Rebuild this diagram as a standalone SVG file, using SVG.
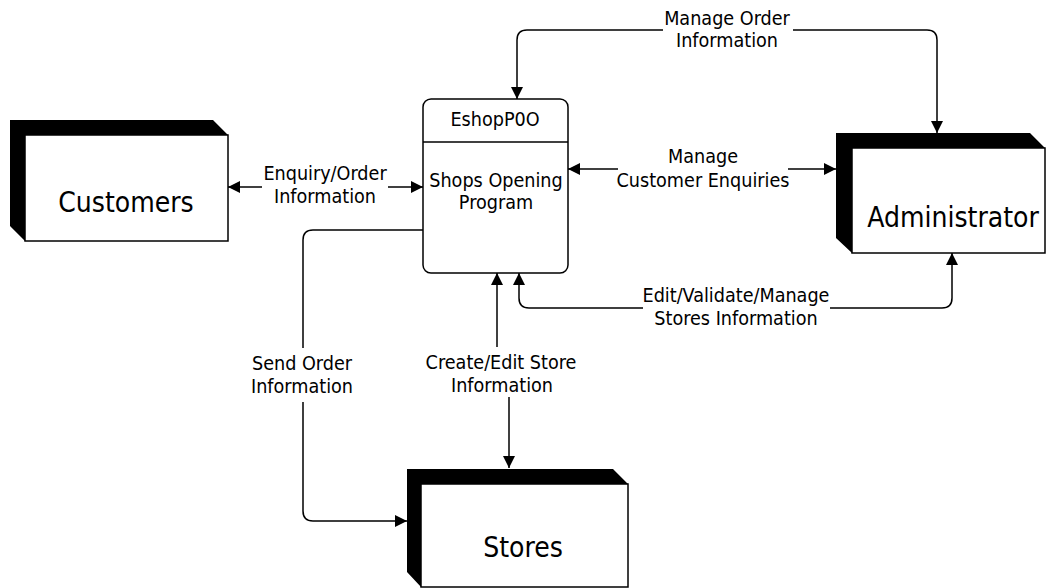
<svg xmlns="http://www.w3.org/2000/svg" width="1048" height="588" viewBox="0 0 1048 588">
<style>
text { font-family: "DejaVu Sans Condensed", "DejaVu Sans", sans-serif; fill: #000; text-anchor: middle; }
.lbl { font-size: 19.6px; }
.ent { font-size: 28px; }
.shade { fill: #000; }
.front { fill: #fff; stroke: #000; stroke-width: 1.5; }
.proc { fill: #fff; stroke: #000; stroke-width: 1.5; }
.con { fill: none; stroke: #000; stroke-width: 1.5; marker-end: url(#ah); }
.plain { fill: none; stroke: #000; stroke-width: 1.5; }
</style>
<defs>
<marker id="ah" markerUnits="userSpaceOnUse" markerWidth="12" markerHeight="12" viewBox="0 0 12 12" refX="12" refY="6" orient="auto">
<path d="M0,0 L12,6 L0,12 z" fill="#000"/>
</marker>
</defs>
<rect width="1048" height="588" fill="#fff"/>

<g id="customers">
<polygon class="shade" points="10,120 213,120 228,135 25,135 25,241 10,226"/>
<rect class="front" x="25" y="135" width="203" height="106"/>
<text class="ent" x="126" y="212">Customers</text>
</g>

<g id="administrator">
<polygon class="shade" points="836,133 1030,133 1045,148 852,148 852,253 836,238"/>
<rect class="front" x="852" y="148" width="193" height="105"/>
<text class="ent" x="953" y="227">Administrator</text>
</g>

<g id="stores">
<polygon class="shade" points="407,469 613,469 628,484 421,484 421,587 407,572"/>
<rect class="front" x="421" y="484" width="207" height="103"/>
<text class="ent" x="523" y="557">Stores</text>
</g>

<g id="process">
<rect class="proc" x="423" y="99" width="145" height="174" rx="8"/>
<line class="plain" x1="423" y1="142" x2="568" y2="142"/>
<text class="lbl" x="495" y="126">EshopP0O</text>
<text class="lbl" x="496" y="187">Shops Opening</text>
<text class="lbl" x="496" y="209">Program</text>
</g>

<g id="connectors">
<path class="con" d="M262,187 L228,187"/>
<path class="con" d="M388,187 L423,187"/>
<text class="lbl" x="325" y="180">Enquiry/Order</text>
<text class="lbl" x="325" y="203">Information</text>

<path class="con" d="M618,169 L568,169"/>
<path class="con" d="M788,169 L836,169"/>
<text class="lbl" x="703" y="163">Manage</text>
<text class="lbl" x="703" y="187">Customer Enquiries</text>

<path class="con" d="M663,30 L527,30 Q517,30 517,40 L517,99"/>
<path class="con" d="M793,30 L927,30 Q937,30 937,40 L937,133"/>
<text class="lbl" x="727" y="25">Manage Order</text>
<text class="lbl" x="727" y="47">Information</text>

<path class="con" d="M643,308 L529,308 Q519,308 519,298 L519,273"/>
<path class="con" d="M830,308 L942,308 Q952,308 952,298 L952,253"/>
<text class="lbl" x="736" y="302">Edit/Validate/Manage</text>
<text class="lbl" x="736" y="325">Stores Information</text>

<path class="con" d="M497,347 L497,273"/>
<path class="con" d="M509,397 L509,468"/>
<text class="lbl" x="501" y="369">Create/Edit Store</text>
<text class="lbl" x="502" y="392">Information</text>

<path class="plain" d="M423,230 L313,230 Q303,230 303,240 L303,348"/>
<path class="con" d="M303,402 L303,511 Q303,521 313,521 L407,521"/>
<text class="lbl" x="302" y="370">Send Order</text>
<text class="lbl" x="302" y="393">Information</text>
</g>
</svg>
